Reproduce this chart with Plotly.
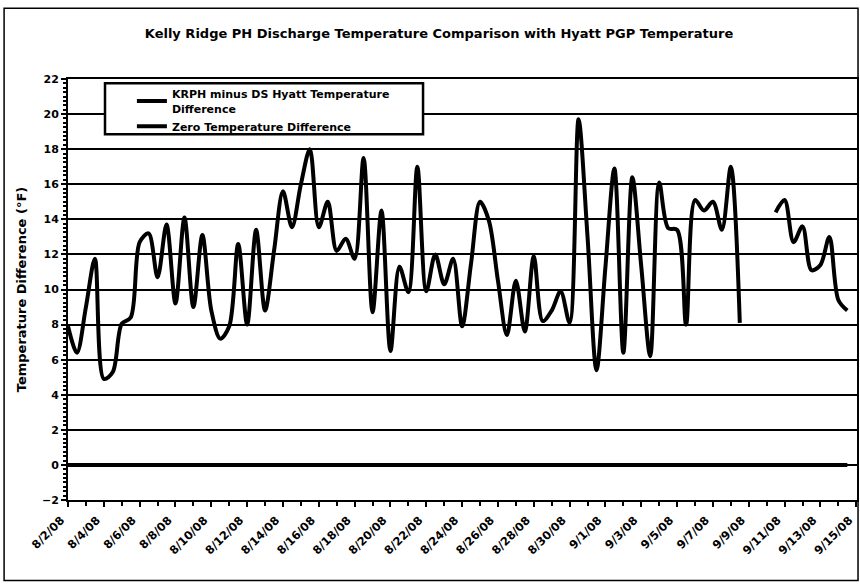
import pandas as pd
import plotly.graph_objects as go

title_text = "Kelly Ridge PH Discharge Temperature Comparison with Hyatt PGP Temperature"
series_name = "KRPH minus DS Hyatt Temperature<br>Difference"
zero_name = "Zero Temperature Difference"
y_title = "Temperature Difference (°F)"

# half-daily readings starting 8/2/08 00:00
times = pd.date_range("2008-08-02 00:00", periods=88, freq="12h")
diff_values = [
    7.9, 6.4, 9.0, 11.75, 4.9, 5.3, 8.05, 8.4, 12.7, 13.2,
    10.7, 13.7, 9.2, 14.1, 9.0, 13.1, 8.8, 7.2, 7.9, 12.6,
    8.0, 13.4, 8.8, 12.2, 15.6, 13.55, 16.0, 18.0, 13.55, 15.0,
    12.2, 12.9, 11.75, 17.5, 8.7, 14.5, 6.5, 11.3, 9.85, 17.0,
    9.9, 12.0, 10.3, 11.75, 7.9, 11.5, 15.0, 13.9, 10.5, 7.4,
    10.5, 7.6, 11.9, 8.2, 8.8, 9.9, 8.1, 19.7, 13.0, 5.4,
    11.3, 16.9, 6.4, 16.4, 11.3, 6.2, 16.1, 13.5, 13.4, 8.0,
    15.1, 14.5, 15.0, 13.4, 17.0, 8.1, None, None, None, 14.4,
    15.1, 12.7, 13.6, 11.1, 11.4, 13.0, 9.4, 8.8,
]
zero_values = [0] * len(times)

tick_dates = pd.date_range("2008-08-02", "2008-09-15", freq="2D")
y_ticks = list(range(-2, 23, 2))

FONT = "DejaVu Sans, Liberation Sans, Arial, sans-serif"

fig = go.Figure()
fig.add_trace(go.Scatter(
    x=times, y=diff_values, mode="lines", name=series_name,
    line=dict(color="black", width=4, shape="spline", smoothing=0.9),
    connectgaps=False,
))
fig.add_trace(go.Scatter(
    x=times, y=zero_values, mode="lines", name=zero_name,
    line=dict(color="black", width=4),
))

fig.update_layout(
    width=860, height=586,
    margin=dict(l=68, r=3, t=79, b=86, autoexpand=False),
    paper_bgcolor="white", plot_bgcolor="white",
    font=dict(family=FONT, color="black", size=11, weight="bold"),
    title=dict(text=title_text, x=0.5105, xanchor="center", y=1 - 33 / 586, yanchor="middle",
               font=dict(size=13, family=FONT, weight="bold", color="black")),
    showlegend=True,
    legend=dict(x=0.081, y=0.997, xanchor="left", yanchor="top",
                bgcolor="rgba(0,0,0,0)", borderwidth=0,
                font=dict(size=11, family=FONT, weight="bold"),
                tracegroupgap=0, itemwidth=30),
    shapes=[
        dict(type="rect", xref="paper", yref="paper",
             x0=-0.081, x1=1.0013, y0=-0.191, y1=1.168,
             line=dict(color="black", width=1.5), layer="below"),
        dict(type="rect", xref="paper", yref="paper",
             x0=0.0469, x1=0.45, y0=0.8686, y1=0.9898,
             fillcolor="white", line=dict(color="black", width=2.5), layer="above"),
    ],
)

fig.update_xaxes(
    type="date", range=["2008-08-02", "2008-09-15 01:00"], automargin=False,
    tickvals=tick_dates, tickformat="%-m/%-d/%y", tickangle=-45,
    ticklabeloverflow="allow", ticklabelshift=-7, ticklabelstandoff=2,
    ticks="outside", ticklen=5, tickwidth=2, tickcolor="black",
    minor=dict(dtick=86400000, ticks="outside", ticklen=4, tickwidth=2, tickcolor="black"),
    showline=True, linecolor="black", linewidth=2, mirror=True,
    showgrid=False, zeroline=False,
    tickfont=dict(size=11.5, family=FONT, weight="bold"),
)
fig.update_yaxes(
    range=[-2, 22], tickvals=y_ticks, automargin=False,
    ticks="outside", ticklen=5, tickwidth=2, tickcolor="black",
    minor=dict(dtick=0.25, ticks="outside", ticklen=3, tickwidth=1.5, tickcolor="black", showgrid=False),
    showline=True, linecolor="black", linewidth=2, mirror=True,
    showgrid=True, gridcolor="black", gridwidth=1.5, zeroline=False,
    tickfont=dict(size=11, family=FONT, weight="bold"),
    title=dict(text=y_title, font=dict(size=13, family=FONT, weight="bold"), standoff=12),
)

fig.write_html("out.html", config={"displayModeBar": False},
               post_script="document.body.style.margin='0';")
